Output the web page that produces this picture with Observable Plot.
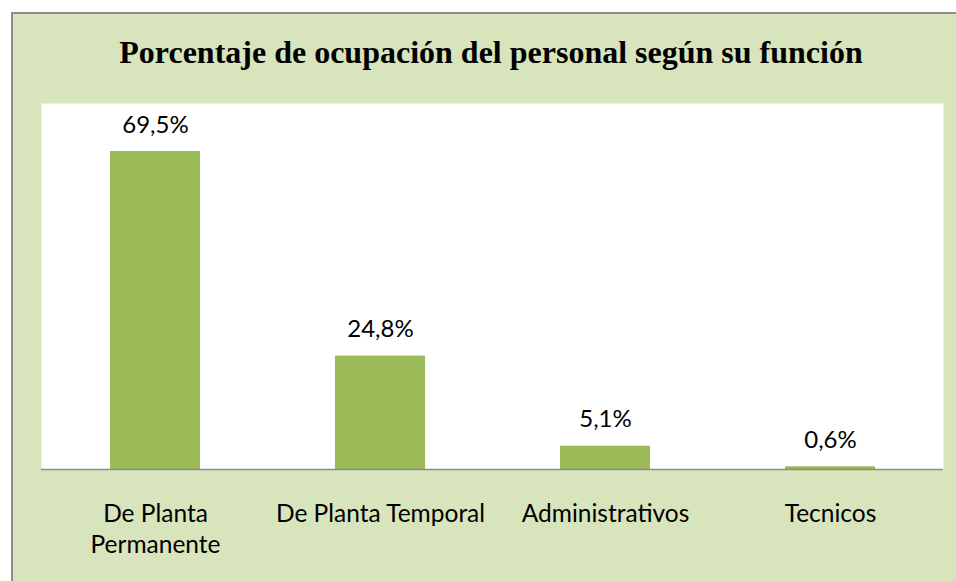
<!DOCTYPE html>
<html>
<head>
<meta charset="utf-8">
<script src="https://cdn.jsdelivr.net/npm/d3@7"></script>
<script src="https://cdn.jsdelivr.net/npm/@observablehq/plot@0.6"></script>
<style>
  html, body { margin: 0; padding: 0; background: #ffffff; width: 956px; height: 581px; overflow: hidden; }
  #box { position: absolute; left: 11px; top: 12px; width: 980px; height: 600px;
         border-left: 2px solid #8c8c8c; border-top: 2px solid #8c8c8c; background: #d8e4bc; }
  #title { position: absolute; left: 12px; width: 958px; top: 36px; text-align: center; line-height: 32px;
           font-family: "Liberation Serif", "Times New Roman", serif; font-weight: bold; font-size: 32px; color: #000; white-space: nowrap; }
  #plot { position: absolute; left: 0; top: 0; }
</style>
</head>
<body>
<div id="box"></div>
<div id="title">Porcentaje de ocupación del personal según su función</div>
<div id="plot"></div>
<script>
const categories = ["De Planta Permanente", "De Planta Temporal", "Administrativos", "Tecnicos"];
const tickLabels = ["De Planta\nPermanente", "De Planta Temporal", "Administrativos", "Tecnicos"];
const values = [69.5, 24.8, 5.1, 0.6];
const valueLabels = ["69,5%", "24,8%", "5,1%", "0,6%"];

const data = categories.map((c, i) => ({category: c, value: values[i], label: valueLabels[i]}));
const tickMap = new Map(categories.map((c, i) => [c, tickLabels[i]]));

const chart = Plot.plot({
  width: 956,
  height: 581,
  marginLeft: 41,
  marginRight: 13,
  marginTop: 103,
  marginBottom: 112,
  style: {background: "transparent", fontFamily: "Lato, sans-serif", color: "#000"},
  x: {domain: categories, paddingInner: 0.6, paddingOuter: 0.3, axis: null},
  y: {domain: [0, 80], axis: null},
  marks: [
    Plot.frame({fill: "white", stroke: null}),
    Plot.barY(data, {x: "category", y: "value", fill: "#9bbb59"}),
    Plot.ruleY([0], {stroke: "#8c8c8c", strokeWidth: 1.5}),
    Plot.text(data, {x: "category", y: "value", text: "label", dy: -19, lineAnchor: "bottom", fontSize: 24, fill: "#000"}),
    Plot.axisX({tickSize: 0, tickPadding: 29.5, lineAnchor: "top", fontSize: 24.5, lineHeight: 1.3,
                tickFormat: d => tickMap.get(d), label: null, fill: "#000"})
  ]
});
document.getElementById("plot").appendChild(chart);
</script>
</body>
</html>
